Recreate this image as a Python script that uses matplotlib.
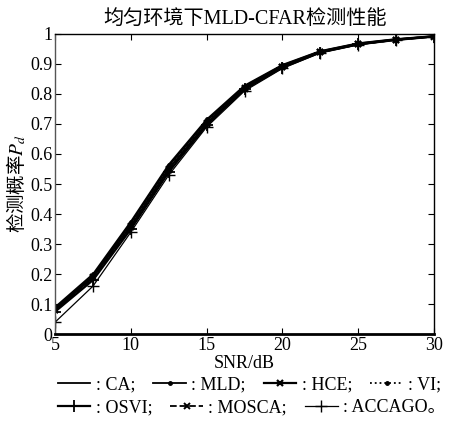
import matplotlib
matplotlib.use("Agg")
import matplotlib.pyplot as plt

plt.rcParams['font.family'] = ['Liberation Serif', 'Noto Sans CJK SC']
plt.rcParams['mathtext.fontset'] = 'stix'

snr = [5, 7.5, 10, 12.5, 15, 17.5, 20, 22.5, 25, 27.5, 30]
pd_ca = [0.085, 0.195, 0.370, 0.560, 0.710, 0.825, 0.895, 0.942, 0.968, 0.982, 0.992]
pd_mld = [0.090, 0.200, 0.375, 0.565, 0.715, 0.828, 0.897, 0.943, 0.969, 0.983, 0.993]
pd_hce = [0.080, 0.190, 0.360, 0.550, 0.702, 0.820, 0.890, 0.940, 0.966, 0.981, 0.992]
pd_vi = [0.085, 0.192, 0.365, 0.555, 0.706, 0.821, 0.892, 0.940, 0.966, 0.981, 0.992]
pd_osvi = [0.075, 0.180, 0.350, 0.540, 0.696, 0.815, 0.888, 0.938, 0.965, 0.980, 0.991]
pd_mosca = [0.080, 0.186, 0.356, 0.546, 0.700, 0.818, 0.890, 0.939, 0.965, 0.980, 0.991]
pd_accago = [0.040, 0.160, 0.340, 0.530, 0.690, 0.810, 0.885, 0.937, 0.964, 0.980, 0.991]

labels = [': CA;', ': MLD;', ': HCE;', ': VI;', ': OSVI;', ': MOSCA;', ': ACCAGO。']
series = [pd_ca, pd_mld, pd_hce, pd_vi, pd_osvi, pd_mosca, pd_accago]
styles = [
    dict(ls='-', marker=None, lw=1.3),
    dict(ls='-', marker='.', ms=5, lw=1.3),
    dict(ls='-', marker='x', ms=5, mew=1.6, lw=1.6),
    dict(ls=':', marker='.', ms=5, lw=1.3),
    dict(ls='-', marker='+', ms=8, mew=1.3, lw=1.6),
    dict(ls='--', marker='x', ms=5, mew=1.4, lw=1.3),
    dict(ls='-', marker='+', ms=8, mew=1.0, lw=0.9),
]

fig = plt.figure(figsize=(4.52, 4.24), dpi=100)
ax = fig.add_axes([0.122, 0.212, 0.838, 0.708])

handles = []
for y, lab, st in zip(series, labels, styles):
    h, = ax.plot(snr, y, color='black', label=lab, **st)
    handles.append(h)

ax.set_xlim(5, 30)
ax.set_ylim(0, 1)
ax.set_xticks([5, 10, 15, 20, 25, 30])
ax.set_yticks([i / 10 for i in range(11)])
ax.set_yticklabels(['0', '0.1', '0.2', '0.3', '0.4', '0.5', '0.6', '0.7', '0.8', '0.9', '1'])
ax.tick_params(direction='in', top=True, right=True, labelsize=13, length=4, pad=2)
for s in ['left', 'right', 'top']:
    ax.spines[s].set_linewidth(1.0)
ax.spines['bottom'].set_linewidth(2.0)
ax.spines['left'].set_color('#555555')

ax.set_title('均匀环境下MLD-CFAR检测性能', fontsize=14.5, pad=7)
ax.set_xlabel('SNR/dB', fontsize=13, labelpad=1)
ax.set_ylabel('检测概率$P_d$', fontsize=14, labelpad=1, family='Noto Sans CJK SC')

leg_kw = dict(frameon=False, fontsize=13, handlelength=1.8, handletextpad=0.3,
              columnspacing=1.0, borderpad=0.0, loc='upper left')
fig.legend(handles[:4], labels[:4], ncol=4, bbox_to_anchor=(0.108, 0.134), **leg_kw)
fig.legend(handles[4:], labels[4:], ncol=3, bbox_to_anchor=(0.108, 0.080), **leg_kw)

fig.savefig('out.png', dpi=100)
